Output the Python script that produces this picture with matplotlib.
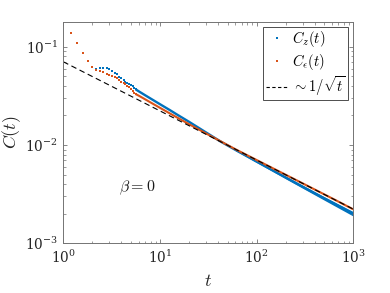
import matplotlib
matplotlib.use("Agg")
import matplotlib.pyplot as plt
from matplotlib.lines import Line2D
from matplotlib.ticker import LogLocator, NullFormatter

plt.rcParams['mathtext.fontset'] = 'cm'
plt.rcParams['font.family'] = ['DejaVu Serif']

# early, individually visible samples (dt = 0.2)
t_early = [1.0, 1.2, 1.4, 1.6, 1.8, 2.0, 2.2, 2.4, 2.6, 2.8, 3.0, 3.2,
           3.4, 3.6, 3.8, 4.0, 4.2, 4.4, 4.6, 4.8, 5.0, 5.2, 5.4, 5.6]
cz_early = [0.178, 0.1387, 0.1083, 0.0863, 0.0710, 0.0626, 0.0597, 0.0603,
            0.0607, 0.0603, 0.0589, 0.0570, 0.0544, 0.0524, 0.0495, 0.0477,
            0.0459, 0.0441, 0.0431, 0.0421, 0.0411, 0.0398, 0.0383, 0.0369]
ce_early = [0.178, 0.1387, 0.1083, 0.0863, 0.0710, 0.0620, 0.0579, 0.0566,
            0.0549, 0.0531, 0.0519, 0.0503, 0.0489, 0.0477, 0.0459, 0.0441,
            0.0427, 0.0414, 0.0398, 0.0386, 0.0371, 0.0357, 0.0340, 0.0330]

# later samples (dense dots forming a continuous band)
t_late = [5.6, 6, 7, 8, 10, 12.7, 15, 20, 30, 42, 60, 100, 150, 220, 300,
          500, 700, 1000]
cz_late = [0.0369, 0.03535, 0.03220, 0.02974, 0.02605, 0.02264, 0.02045,
           0.01724, 0.01343, 0.01092, 0.00895, 0.00679, 0.00546, 0.00444,
           0.00376, 0.00287, 0.00241, 0.00200]
ce_late = [0.0330, 0.03190, 0.02927, 0.02713, 0.02393, 0.02094, 0.01909,
           0.01629, 0.01311, 0.01097, 0.00909, 0.00704, 0.00575, 0.00475,
           0.00407, 0.00315, 0.00266, 0.002215]

# noise spread of C_z at late times (lower / upper edge of the dot cloud)
t_spread = [60, 100, 220, 500, 1000]
cz_spread_lo = [0.00880, 0.00663, 0.00430, 0.00275, 0.00189]
cz_spread_hi = [0.00910, 0.00695, 0.00458, 0.00298, 0.00210]

# reference power law ~ 1/sqrt(t)
t_ref = [1, 1000]
c_ref = [0.0704, 0.002226]

blue = '#0072BD'
orange = '#D95319'

fig = plt.figure(figsize=(3.9, 2.93), dpi=100)
ax = fig.add_axes([0.1623, 0.1696, 0.7436, 0.7563])

ax.fill_between(t_spread, cz_spread_lo, cz_spread_hi, color=blue, lw=0)
ax.plot(t_late, cz_late, '-', color=blue, lw=1.7, solid_capstyle='butt')
ax.plot(t_early, cz_early, 's', color=blue, ms=1.7, mew=0)
ax.plot(t_late, ce_late, '-', color=orange, lw=1.5, solid_capstyle='butt')
ax.plot(t_early, ce_early, 's', color=orange, ms=1.7, mew=0)
ax.plot(t_ref, c_ref, color='black', lw=0.8, dashes=(5, 3.2))

ax.set_xscale('log')
ax.set_yscale('log')
ax.set_xlim(1, 1000)
ax.set_ylim(1e-3, 0.18)

axcol = '0.45'
for s in ax.spines.values():
    s.set_color(axcol)
    s.set_linewidth(0.7)
ax.xaxis.set_major_locator(LogLocator(base=10, numticks=10))
ax.yaxis.set_major_locator(LogLocator(base=10, numticks=10))
ax.xaxis.set_minor_locator(LogLocator(base=10, subs=range(2, 10), numticks=20))
ax.yaxis.set_minor_locator(LogLocator(base=10, subs=range(2, 10), numticks=20))
ax.xaxis.set_minor_formatter(NullFormatter())
ax.yaxis.set_minor_formatter(NullFormatter())
ax.tick_params(which='both', direction='in', top=True, right=True,
               color=axcol, labelcolor='0.15', labelsize=9.8)
ax.tick_params(which='major', length=3, width=0.6, pad=4)
ax.tick_params(which='minor', length=1.8, width=0.5)

ax.set_xlabel(r'$t$', fontsize=13, color='0.15', labelpad=4)
ax.set_ylabel(r'$C(t)$', fontsize=13, color='0.15', va='center')
ax.yaxis.set_label_coords(-0.177, 0.5)

ax.text(3.75, 0.00363, r'$\beta = 0$', fontsize=11.5, color='0.1',
        ha='left', va='center')

handles = [
    Line2D([], [], ls='none', marker='s', ms=1.7, mew=0, color=blue),
    Line2D([], [], ls='none', marker='s', ms=1.7, mew=0, color=orange),
    Line2D([], [], color='black', lw=0.8, dashes=(3, 2.2)),
]
labels = [r'$C_z(t)$', r'$C_\epsilon(t)$', r'$\sim 1/\sqrt{t}$']
leg = ax.legend(handles, labels, loc='upper right', fontsize=10.5,
                frameon=True, fancybox=False, framealpha=1,
                edgecolor='0.3', borderaxespad=0.38, handlelength=1.5,
                handletextpad=0.3, labelspacing=0.15, borderpad=0.15)
leg.get_frame().set_linewidth(0.7)

fig.savefig('out.png', dpi=100)
